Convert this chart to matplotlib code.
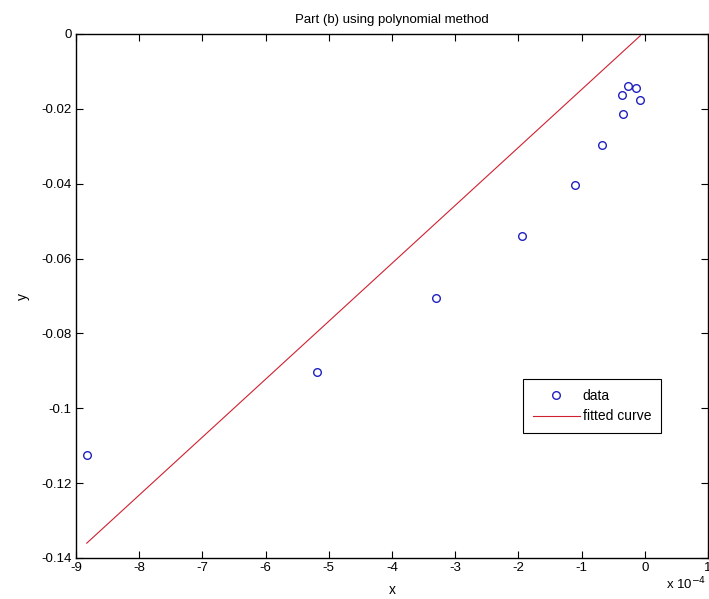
import numpy as np
import matplotlib.pyplot as plt
from matplotlib.ticker import FuncFormatter, MultipleLocator

plt.rcParams['font.family'] = ['Liberation Sans Narrow', 'Liberation Sans', 'DejaVu Sans']

# data (x in units of 1e-4)
x_data = np.array([-8.83, -5.18, -3.30, -1.95, -1.10, -0.68, -0.35, -0.36, -0.26, -0.14, -0.07])
y_data = np.array([-0.1125, -0.0903, -0.0706, -0.0540, -0.0403, -0.0297, -0.0215, -0.0164, -0.0139, -0.0143, -0.0176])

# fitted line coefficients: y = p0 + p1 * x  (x in units of 1e-4)
p1 = 0.01548
p0 = 0.00065

scale = 1e-4
x_fit = np.array([x_data.min(), x_data.max()])
y_fit = p0 + p1 * x_fit

fig = plt.figure(figsize=(7.09, 5.99), dpi=100)
ax = fig.add_axes([76 / 709, 41 / 599, 632 / 709, 524 / 599])

ax.plot(x_data * scale, y_data, 'o', mfc='none', mec='#2020c0', ms=5.5, mew=1.0, label='data')
ax.plot(x_fit * scale, y_fit, '-', color='#d02030', lw=0.8, label='fitted curve')

ax.set_xlim(-9e-4, 1e-4)
ax.set_ylim(-0.14, 0)
ax.xaxis.set_major_locator(MultipleLocator(1e-4))
ax.yaxis.set_major_locator(MultipleLocator(0.02))
ax.xaxis.set_major_formatter(FuncFormatter(lambda v, p: f"{round(v / scale):d}"))
ax.yaxis.set_major_formatter(FuncFormatter(lambda v, p: "0" if abs(v) < 1e-12 else f"{v:g}"))

ax.tick_params(direction='in', length=5, width=0.8, top=True, right=True, labelsize=9.5, pad=3)
for s in ax.spines.values():
    s.set_linewidth(1.0)

ax.set_title("Part (b) using polynomial method", fontsize=9.5, pad=8)
ax.set_xlabel("x", fontsize=10, labelpad=6)
ax.set_ylabel("y", fontsize=10, labelpad=8)
ax.text(0.998, -0.034, r"x 10$^{-4}$", transform=ax.transAxes, ha='right', va='top', fontsize=9.5)

leg = ax.legend(loc='upper left', bbox_to_anchor=(0.707, 0.342), fontsize=10,
                frameon=True, fancybox=False, edgecolor='black', framealpha=1,
                handlelength=3.4, handletextpad=0.2, borderpad=0.7, labelspacing=0.5,
                borderaxespad=0)
leg.get_frame().set_linewidth(0.8)

plt.savefig("out.png", dpi=100)
